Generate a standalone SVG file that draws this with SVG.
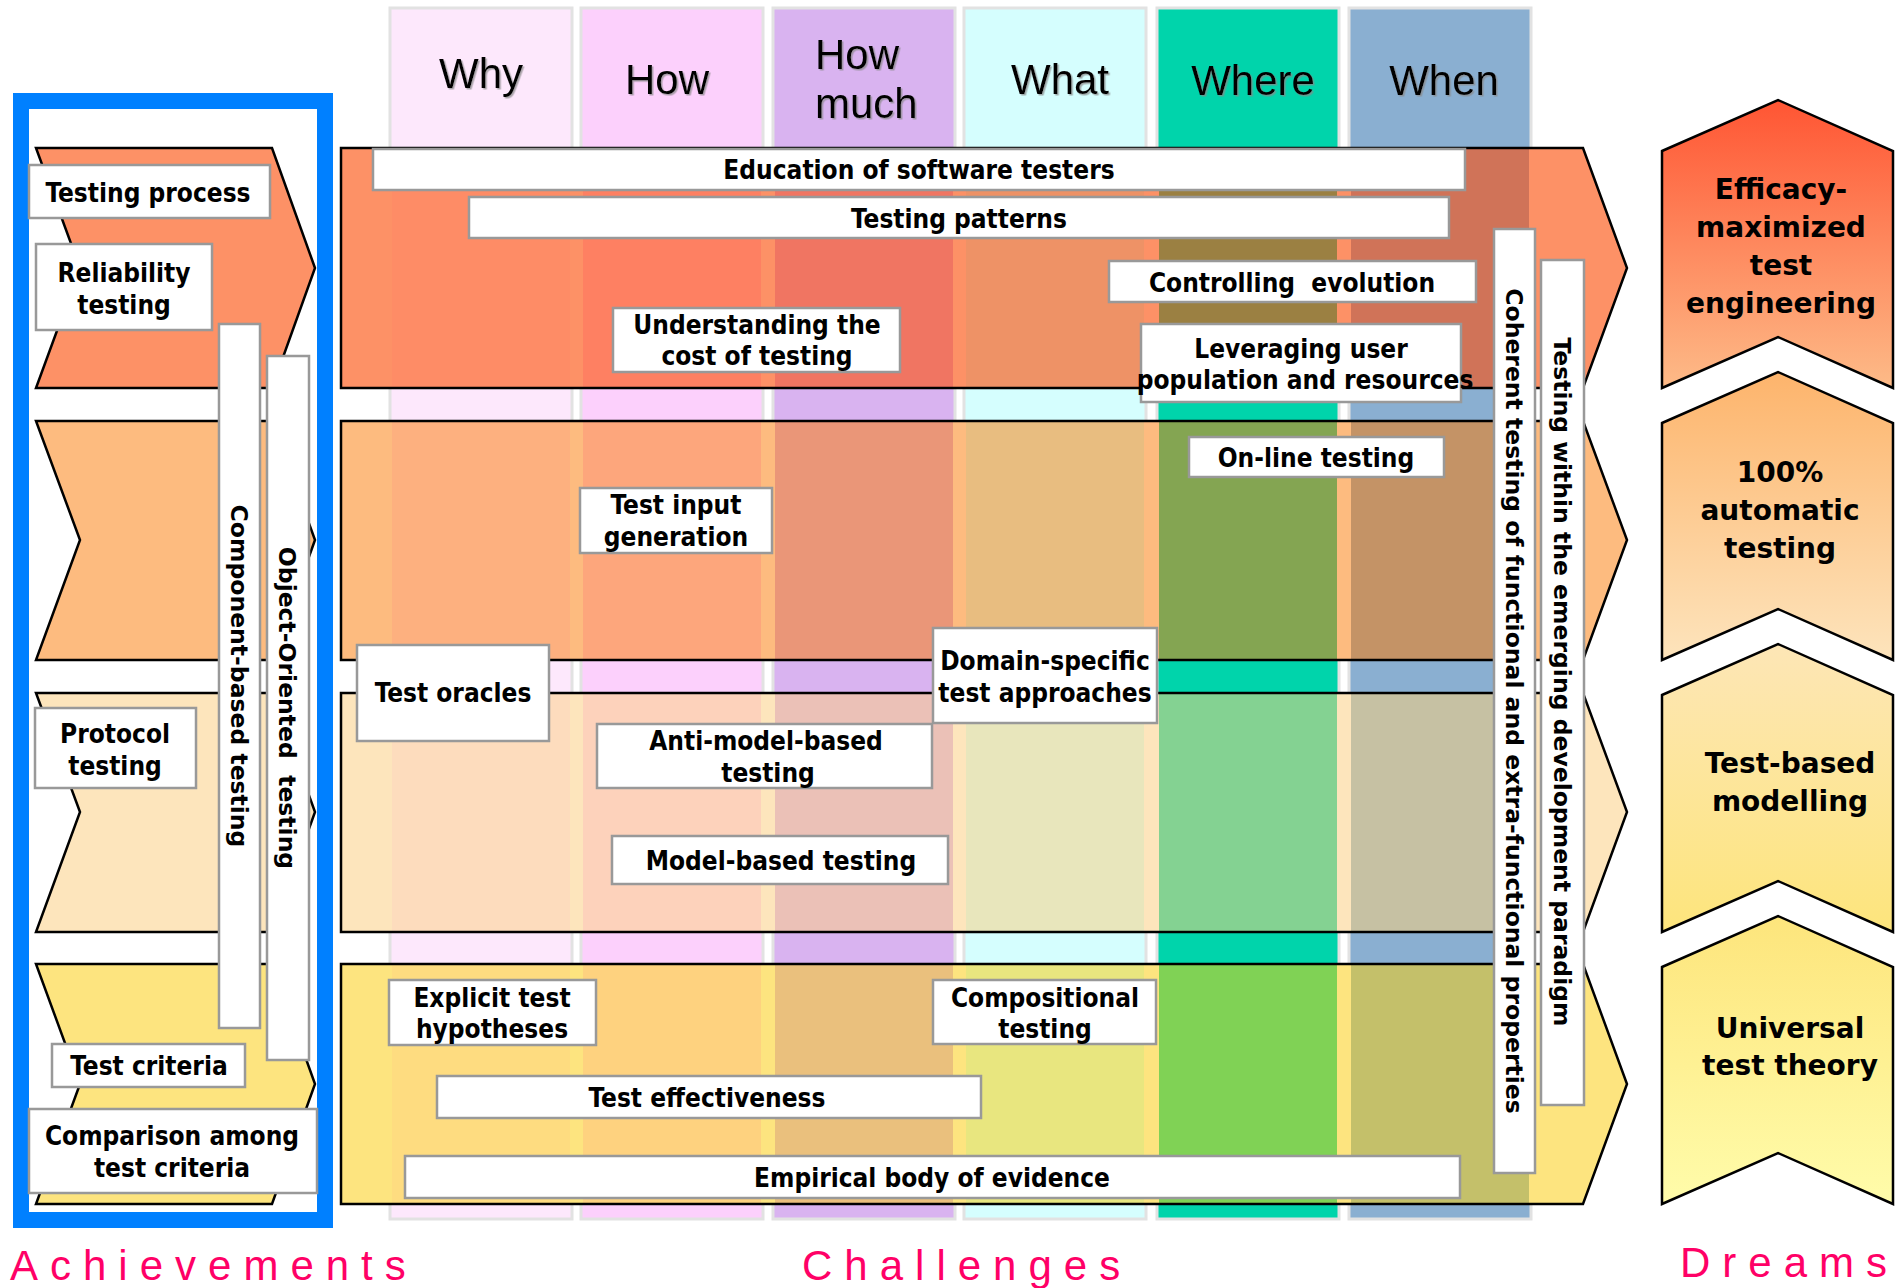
<svg xmlns="http://www.w3.org/2000/svg" width="1904" height="1288" viewBox="0 0 1904 1288">
<defs>
<style>
.col{stroke:#e2e2e2;stroke-width:3}
.hdr{font-family:"Liberation Sans",Arial,sans-serif;font-size:42px;fill:#000;filter:url(#sh)}
.row{stroke:none}
.rowline{fill:none;stroke:#000;stroke-width:2.5}
.box{fill:#fff;stroke:#999;stroke-width:2.5}
.lbl{font-family:"DejaVu Sans Condensed","Liberation Sans",Arial,sans-serif;font-stretch:condensed;font-weight:bold;font-size:26px;fill:#000;text-anchor:middle}
.vlbl{font-family:"DejaVu Sans",Verdana,sans-serif;font-weight:bold;font-size:23.5px;fill:#000;text-anchor:middle}
.dream{stroke:#000;stroke-width:2.5}
.dlbl{font-family:"DejaVu Sans",Verdana,sans-serif;font-weight:bold;font-size:28px;fill:#000;text-anchor:middle}
.cap{font-family:"Liberation Sans",Arial,sans-serif;font-size:42px;fill:#ff0066;letter-spacing:12px}
</style>
<filter id="sh" x="-10%" y="-10%" width="130%" height="140%"><feDropShadow dx="1.5" dy="1.5" stdDeviation="0.6" flood-color="#888" flood-opacity="0.7"/></filter>
<linearGradient id="g1" x1="0" y1="0" x2="0" y2="1"><stop offset="0" stop-color="#ff5533"/><stop offset="1" stop-color="#fdbb88"/></linearGradient>
<linearGradient id="g2" x1="0" y1="0" x2="0" y2="1"><stop offset="0" stop-color="#fdb46c"/><stop offset="1" stop-color="#fde4bc"/></linearGradient>
<linearGradient id="g3" x1="0" y1="0" x2="0" y2="1"><stop offset="0" stop-color="#fde6b6"/><stop offset="1" stop-color="#fde57c"/></linearGradient>
<linearGradient id="g4" x1="0" y1="0" x2="0" y2="1"><stop offset="0" stop-color="#fde57c"/><stop offset="1" stop-color="#fffcaa"/></linearGradient>
</defs>
<rect width="1904" height="1288" fill="#fff"/>

<g id="columns">
<rect class="col" x="390" y="8" width="182" height="1211" fill="#fde8fc"/>
<rect class="col" x="581" y="8" width="182" height="1211" fill="#fcd0fc"/>
<rect class="col" x="773" y="8" width="182" height="1211" fill="#d9b3f0"/>
<rect class="col" x="964" y="8" width="182" height="1211" fill="#d5fefe"/>
<rect class="col" x="1157" y="8" width="182" height="1211" fill="#00d4ab"/>
<rect class="col" x="1349" y="8" width="182" height="1211" fill="#8aafd1"/>
<text class="hdr" x="481" y="88" text-anchor="middle">Why</text>
<text class="hdr" x="667" y="94" text-anchor="middle">How</text>
<text class="hdr" x="815" y="69">How</text>
<text class="hdr" x="815" y="118">much</text>
<text class="hdr" x="1060" y="94" text-anchor="middle">What</text>
<text class="hdr" x="1253" y="95" text-anchor="middle">Where</text>
<text class="hdr" x="1444" y="95" text-anchor="middle">When</text>
</g>

<g id="challenge-rows">
<polygon class="row" points="341,148 1583,148 1627,268 1583,388 341,388" fill="#fd9166"/>
<polygon class="row" points="341,421 1583,421 1627,540 1583,660 341,660" fill="#fdbb7f"/>
<polygon class="row" points="341,693 1583,693 1627,812 1583,932 341,932" fill="#fde5bc"/>
<polygon class="row" points="341,964 1583,964 1627,1084 1583,1204 341,1204" fill="#fde47f"/>
<g id="cells">
<rect x="392" y="149" width="178" height="238" fill="#fe8c66"/>
<rect x="583" y="149" width="178" height="238" fill="#fe8062"/>
<rect x="775" y="149" width="178" height="238" fill="#f07562"/>
<rect x="966" y="149" width="178" height="238" fill="#ee9266"/>
<rect x="1159" y="149" width="178" height="238" fill="#9b8042"/>
<rect x="1351" y="149" width="178" height="238" fill="#d07358"/>
<rect x="392" y="422" width="178" height="237" fill="#fdb07f"/>
<rect x="583" y="422" width="178" height="237" fill="#fda67c"/>
<rect x="775" y="422" width="178" height="237" fill="#ea9678"/>
<rect x="966" y="422" width="178" height="237" fill="#e8bd80"/>
<rect x="1159" y="422" width="178" height="237" fill="#84a552"/>
<rect x="1351" y="422" width="178" height="237" fill="#c49366"/>
<rect x="392" y="694" width="178" height="237" fill="#fddcbd"/>
<rect x="583" y="694" width="178" height="237" fill="#fdd2bb"/>
<rect x="775" y="694" width="178" height="237" fill="#ebc1b7"/>
<rect x="966" y="694" width="178" height="237" fill="#e8e6bc"/>
<rect x="1159" y="694" width="178" height="237" fill="#84d292"/>
<rect x="1351" y="694" width="178" height="237" fill="#c6c1a3"/>
<rect x="392" y="965" width="178" height="238" fill="#fedc80"/>
<rect x="583" y="965" width="178" height="238" fill="#fed27f"/>
<rect x="775" y="965" width="178" height="238" fill="#eac07d"/>
<rect x="966" y="965" width="178" height="238" fill="#e8e67f"/>
<rect x="1159" y="965" width="178" height="238" fill="#80d255"/>
<rect x="1351" y="965" width="178" height="238" fill="#c4c06a"/>
</g>
<polygon class="rowline" points="341,148 1583,148 1627,268 1583,388 341,388"/>
<polygon class="rowline" points="341,421 1583,421 1627,540 1583,660 341,660"/>
<polygon class="rowline" points="341,693 1583,693 1627,812 1583,932 341,932"/>
<polygon class="rowline" points="341,964 1583,964 1627,1084 1583,1204 341,1204"/>
</g>

<g id="achievements-frame">
<rect x="21" y="101" width="304" height="1119" fill="#fff" stroke="#0080ff" stroke-width="16"/>
<polygon class="dream" points="36,148 272,148 315,268 272,388 36,388 80,268" fill="#fd9166"/>
<polygon class="dream" points="36,421 272,421 315,540 272,660 36,660 80,540" fill="#fdbb7f"/>
<polygon class="dream" points="36,693 272,693 315,812 272,932 36,932 80,812" fill="#fde5bc"/>
<polygon class="dream" points="36,964 272,964 315,1084 272,1204 36,1204 80,1084" fill="#fde47f"/>
</g>

<g id="node-testing-process"><rect class="box" x="29" y="165" width="241" height="53"/><text class="lbl" x="148" y="202">Testing process</text></g>
<g id="node-reliability-testing"><rect class="box" x="36" y="244" width="176" height="86"/><text class="lbl" x="124" y="282">Reliability</text><text class="lbl" x="124" y="314">testing</text></g>
<g id="node-component-based-testing"><rect class="box" x="219" y="324" width="41" height="704"/><text class="vlbl" transform="translate(239.5,676) rotate(90)" dy="0.36em">Component-based testing</text></g>
<g id="node-object-oriented-testing"><rect class="box" x="267" y="356" width="42" height="704"/><text class="vlbl" transform="translate(287,708) rotate(90)" dy="0.36em">Object-Oriented&#160; testing</text></g>
<g id="node-protocol-testing"><rect class="box" x="35" y="708" width="161" height="80"/><text class="lbl" x="115" y="743">Protocol</text><text class="lbl" x="115" y="775">testing</text></g>
<g id="node-test-criteria"><rect class="box" x="52" y="1044" width="193" height="43"/><text class="lbl" x="149" y="1075">Test criteria</text></g>
<g id="node-comparison"><rect class="box" x="29" y="1109" width="288" height="84"/><text class="lbl" x="172" y="1145">Comparison among</text><text class="lbl" x="172" y="1177">test criteria</text></g>

<g id="node-education"><rect class="box" x="373" y="149" width="1092" height="41"/><text class="lbl" x="919" y="179">Education of software testers</text></g>
<g id="node-testing-patterns"><rect class="box" x="469" y="197" width="980" height="41"/><text class="lbl" x="959" y="228">Testing patterns</text></g>
<g id="node-controlling-evolution"><rect class="box" x="1109" y="261" width="367" height="41"/><text class="lbl" x="1292" y="292">Controlling&#160; evolution</text></g>
<g id="node-understanding-cost"><rect class="box" x="613" y="308" width="287" height="64"/><text class="lbl" x="757" y="334">Understanding the</text><text class="lbl" x="757" y="365">cost of testing</text></g>
<g id="node-leveraging"><rect class="box" x="1141" y="324" width="320" height="78"/><text class="lbl" x="1301" y="358">Leveraging user</text><text class="lbl" x="1305" y="389">population and resources</text></g>
<g id="node-online-testing"><rect class="box" x="1189" y="437" width="255" height="40"/><text class="lbl" x="1316" y="467">On-line testing</text></g>
<g id="node-test-input-generation"><rect class="box" x="580" y="488" width="192" height="65"/><text class="lbl" x="676" y="514">Test input</text><text class="lbl" x="676" y="546">generation</text></g>
<g id="node-test-oracles"><rect class="box" x="357" y="645" width="192" height="96"/><text class="lbl" x="453" y="702">Test oracles</text></g>
<g id="node-domain-specific"><rect class="box" x="933" y="628" width="224" height="95"/><text class="lbl" x="1045" y="670">Domain-specific</text><text class="lbl" x="1045" y="702">test approaches</text></g>
<g id="node-anti-model-based"><rect class="box" x="597" y="724" width="335" height="64"/><text class="lbl" x="766" y="750">Anti-model-based</text><text class="lbl" x="768" y="782">testing</text></g>
<g id="node-model-based"><rect class="box" x="612" y="836" width="336" height="48"/><text class="lbl" x="781" y="870">Model-based testing</text></g>
<g id="node-explicit-hypotheses"><rect class="box" x="389" y="980" width="207" height="65"/><text class="lbl" x="492" y="1007">Explicit test</text><text class="lbl" x="492" y="1038">hypotheses</text></g>
<g id="node-compositional"><rect class="box" x="933" y="980" width="223" height="64"/><text class="lbl" x="1045" y="1007">Compositional</text><text class="lbl" x="1045" y="1038">testing</text></g>
<g id="node-test-effectiveness"><rect class="box" x="437" y="1076" width="544" height="42"/><text class="lbl" x="707" y="1107">Test effectiveness</text></g>
<g id="node-empirical"><rect class="box" x="405" y="1156" width="1055" height="42"/><text class="lbl" x="932" y="1187">Empirical body of evidence</text></g>
<g id="node-coherent"><rect class="box" x="1494" y="229" width="41" height="944"/><text class="vlbl" transform="translate(1514.5,701) rotate(90)" dy="0.36em">Coherent testing of functional and extra-functional properties</text></g>
<g id="node-emerging"><rect class="box" x="1541" y="260" width="43" height="845"/><text class="vlbl" transform="translate(1562.5,682) rotate(90)" dy="0.36em">Testing within the emerging development paradigm</text></g>

<g id="node-dream-efficacy"><polygon class="dream" points="1662,151 1778,100 1893,151 1893,388 1778,337 1662,388" fill="url(#g1)"/><text class="dlbl" x="1781" y="199">Efficacy-</text><text class="dlbl" x="1781" y="237">maximized</text><text class="dlbl" x="1781" y="275">test</text><text class="dlbl" x="1781" y="313">engineering</text></g>
<g id="node-dream-automatic"><polygon class="dream" points="1662,423 1778,372 1893,423 1893,660 1778,609 1662,660" fill="url(#g2)"/><text class="dlbl" x="1780" y="482">100%</text><text class="dlbl" x="1780" y="520">automatic</text><text class="dlbl" x="1780" y="558">testing</text></g>
<g id="node-dream-modelling"><polygon class="dream" points="1662,695 1778,644 1893,695 1893,932 1778,881 1662,932" fill="url(#g3)"/><text class="dlbl" x="1790" y="773">Test-based</text><text class="dlbl" x="1790" y="811">modelling</text></g>
<g id="node-dream-theory"><polygon class="dream" points="1662,967 1778,916 1893,967 1893,1204 1778,1153 1662,1204" fill="url(#g4)"/><text class="dlbl" x="1790" y="1038">Universal</text><text class="dlbl" x="1790" y="1075">test theory</text></g>

<g id="connectors"></g>

<g id="captions">
<text class="cap" x="10" y="1280">Achievements</text>
<text class="cap" x="802" y="1280">Challenges</text>
<text class="cap" x="1680" y="1277">Dreams</text>
</g>
</svg>
